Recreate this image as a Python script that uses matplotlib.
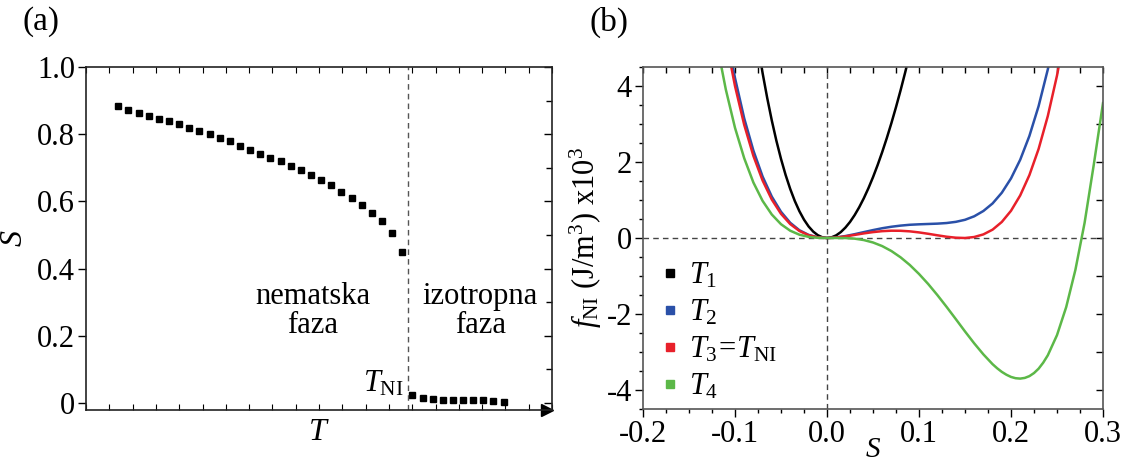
import numpy as np
import matplotlib
matplotlib.use('Agg')
import matplotlib.pyplot as plt
from matplotlib.lines import Line2D
from matplotlib.ticker import MultipleLocator

plt.rcParams['font.family'] = ['Liberation Serif', 'DejaVu Serif']
plt.rcParams['mathtext.fontset'] = 'custom'
plt.rcParams['mathtext.rm'] = 'Liberation Serif'
plt.rcParams['mathtext.it'] = 'Liberation Serif:italic'
plt.rcParams['axes.unicode_minus'] = False

# (a) order parameter vs temperature
T_nem = list(range(1, 30))
S_nem = [0.883, 0.873, 0.863, 0.855, 0.846, 0.838, 0.829, 0.818, 0.810, 0.802,
         0.789, 0.779, 0.766, 0.754, 0.742, 0.730, 0.720, 0.706, 0.692, 0.679,
         0.663, 0.648, 0.628, 0.611, 0.588, 0.565, 0.541, 0.506, 0.449]
T_iso = list(range(30, 40))
S_iso = [0.023, 0.015, 0.011, 0.008, 0.008, 0.008, 0.008, 0.008, 0.007, 0.002]
T_NI = 29.6

# (b) free energy density curves, f_NI x10^3 J/m^3
S_grid = [-0.12, -0.11, -0.10, -0.09, -0.08, -0.07, -0.06, -0.05, -0.04, -0.03,
          -0.02, -0.01, 0.00, 0.01, 0.02, 0.03, 0.04, 0.05, 0.06, 0.07,
          0.08, 0.09, 0.10, 0.11, 0.12, 0.13, 0.14, 0.15, 0.16, 0.17,
          0.18, 0.19, 0.20, 0.21, 0.22, 0.23, 0.24, 0.25, 0.26, 0.27,
          0.28, 0.29, 0.30]
S_T1 = [-0.080, -0.075, -0.070, -0.065, -0.060, -0.055, -0.050, -0.045, -0.040,
        -0.035, -0.030, -0.025, -0.020, -0.015, -0.010, -0.005, 0.000, 0.005,
        0.010, 0.015, 0.020, 0.025, 0.030, 0.035, 0.040, 0.045, 0.050, 0.055,
        0.060, 0.065, 0.070, 0.075, 0.080, 0.085, 0.090]
f_T1 = [5.86, 5.07, 4.34, 3.687, 3.092, 2.558, 2.082, 1.660, 1.292, 0.974,
        0.705, 0.483, 0.304, 0.169, 0.074, 0.018, 0.0, 0.018, 0.070, 0.156,
        0.274, 0.422, 0.601, 0.809, 1.045, 1.309, 1.600, 1.918, 2.261, 2.630,
        3.024, 3.444, 3.889, 4.360, 4.857]
f_T2 = [7.03, 5.50, 4.21, 3.15, 2.30, 1.617, 1.089, 0.690, 0.401, 0.204,
        0.082, 0.018, 0.0, 0.014, 0.051, 0.100, 0.155, 0.208, 0.257, 0.296,
        0.326, 0.348, 0.360, 0.369, 0.378, 0.394, 0.425, 0.479, 0.571, 0.711,
        0.910, 1.191, 1.568, 2.059, 2.686, 3.470, 4.435, 5.606, 7.0, 8.6,
        10.4, 12.5, 14.8]
f_T3 = [6.72, 5.24, 4.00, 2.98, 2.16, 1.513, 1.012, 0.637, 0.367, 0.185,
        0.073, 0.016, 0.0, 0.012, 0.042, 0.081, 0.121, 0.155, 0.180, 0.192,
        0.190, 0.175, 0.147, 0.111, 0.071, 0.034, 0.008, 0.000, 0.026, 0.095,
        0.220, 0.422, 0.716, 1.120, 1.655, 2.343, 3.208, 4.275, 5.570, 7.1,
        8.9, 10.9, 13.2]
S_T4 = [-0.12, -0.11, -0.10, -0.09, -0.08, -0.07, -0.06, -0.05, -0.04, -0.03,
        -0.02, -0.01, 0.00, 0.01, 0.02, 0.03, 0.04, 0.05, 0.06, 0.07,
        0.08, 0.09, 0.10, 0.11, 0.12, 0.13, 0.14, 0.15, 0.16, 0.17,
        0.18, 0.185, 0.19, 0.195, 0.20, 0.205, 0.21, 0.215, 0.22, 0.225,
        0.23, 0.235, 0.24, 0.25, 0.26, 0.27, 0.28, 0.29, 0.30]
f_T4 = [5.15, 3.91, 2.90, 2.10, 1.46, 0.977, 0.618, 0.363, 0.192, 0.087,
        0.030, 0.005, 0.0, 0.001, -0.001, -0.017, -0.054, -0.118, -0.213, -0.343,
        -0.509, -0.710, -0.946, -1.211, -1.503, -1.813, -2.134, -2.459, -2.772, -3.063,
        -3.321, -3.429, -3.523, -3.598, -3.656, -3.690, -3.700, -3.682, -3.635, -3.554,
        -3.439, -3.281, -3.087, -2.556, -1.818, -0.838, 0.400, 1.934, 3.55]

curve_labels = [r'$T_1$', r'$T_2$', r'$T_3\!=\!T_{\mathrm{NI}}$', r'$T_4$']
curve_colors = ['#000000', '#2a50a8', '#e8202a', '#5cb848']

fig = plt.figure(figsize=(11.35, 4.68), dpi=100)
ax1 = fig.add_axes([86/1135, 1 - 410/468, 466/1135, 343/468])
ax2 = fig.add_axes([643/1135, 1 - 409/468, 460/1135, 342/468])

# ---- panel (a)
ax1.plot(T_nem, S_nem, 's', color='black', markersize=5)
ax1.plot(T_iso, S_iso, 's', color='black', markersize=5)
ax1.axvline(T_NI, color='#555555', ls=(0, (4, 3)), lw=1)
ax1.set_xlim(-2.19, 43.77)
ax1.set_ylim(-0.021, 1.0)
ax1.set_yticks([0, 0.2, 0.4, 0.6, 0.8, 1.0])
ax1.set_yticklabels(['0', '0.2', '0.4', '0.6', '0.8', '1.0'])
ax1.yaxis.set_minor_locator(MultipleLocator(0.1))
ax1.set_xticks(np.linspace(-2.19, 43.77, 21))
ax1.set_xticklabels([])
ax1.tick_params(axis='y', which='major', direction='out', length=6, width=1,
                labelsize=22, pad=2, right=False)
ax1.tick_params(axis='y', which='minor', left=False, right=False)
ax1.tick_params(axis='x', which='major', direction='in', length=4, width=0.8,
                top=True, bottom=True)
# right spine ticks pointing inwards
secy = ax1.secondary_yaxis('right')
secy.set_yticks([0, 0.2, 0.4, 0.6, 0.8, 1.0])
secy.yaxis.set_minor_locator(MultipleLocator(0.1))
secy.tick_params(which='major', direction='in', length=6, width=1, labelright=False)
secy.tick_params(which='minor', direction='in', length=4, width=1)
secy.spines['right'].set_visible(False)
for s in ax1.spines.values():
    s.set_linewidth(1.2)
    s.set_color('#222222')
ax1.plot(0.989, 0, '>', color='black', markersize=8, transform=ax1.transAxes,
         clip_on=False)
ax1.set_xlabel(r'$T$', fontsize=23, labelpad=2)
ax1.set_ylabel(r'$S$', fontsize=23, labelpad=6)
ax1.text(20.2, 0.275, 'nematska\nfaza', fontsize=22, ha='center', va='center',
         linespacing=1.0)
ax1.text(36.7, 0.275, 'izotropna\nfaza', fontsize=22, ha='center', va='center',
         linespacing=1.0)
ax1.text(29.2, 0.035, r'$T_{\mathrm{NI}}$', fontsize=22, ha='right', va='baseline')

# ---- panel (b)
ax2.axhline(0, color='#444444', ls=(0, (4, 3)), lw=1)
ax2.axvline(0, color='#444444', ls=(0, (4, 3)), lw=1)
ax2.plot(S_T1, f_T1, color=curve_colors[0], lw=1.8)
ax2.plot(S_grid, f_T2, color=curve_colors[1], lw=1.8)
ax2.plot(S_grid, f_T3, color=curve_colors[2], lw=1.8)
ax2.plot(S_T4, f_T4, color=curve_colors[3], lw=1.8)
ax2.set_xlim(-0.2, 0.3)
ax2.set_ylim(-4.5, 4.5)
ax2.set_xticks([-0.2, -0.1, 0.0, 0.1, 0.2, 0.3])
ax2.set_xticklabels(['-0.2', '-0.1', '0.0', '0.1', '0.2', '0.3'])
ax2.set_yticks([-4, -2, 0, 2, 4])
ax2.set_yticklabels(['-4', '-2', '0', '2', '4'])
ax2.xaxis.set_minor_locator(MultipleLocator(0.025))
ax2.yaxis.set_minor_locator(MultipleLocator(0.5))
ax2.tick_params(which='major', direction='out', length=6, width=1, labelsize=22,
                pad=2)
ax2.tick_params(which='minor', direction='out', length=3, width=1)
secx = ax2.secondary_xaxis('top')
secx.xaxis.set_minor_locator(MultipleLocator(0.025))
secx.set_xticks([-0.2, -0.1, 0.0, 0.1, 0.2, 0.3])
secx.tick_params(which='both', direction='in', length=4, width=1, labeltop=False)
secx.spines['top'].set_visible(False)
secy2 = ax2.secondary_yaxis('right')
secy2.set_yticks([-4, -2, 0, 2, 4])
secy2.yaxis.set_minor_locator(MultipleLocator(1))
secy2.tick_params(which='both', direction='in', length=5, width=1, labelright=False)
secy2.spines['right'].set_visible(False)
for s in ax2.spines.values():
    s.set_linewidth(1.2)
    s.set_color('#555555')
ax2.set_xlabel(r'$S$', fontsize=21, labelpad=-9)
ax2.set_ylabel(r'$f_{\mathrm{NI}}$ (J/m$^3$) x10$^3$', fontsize=22, labelpad=2)

handles = [Line2D([], [], marker='s', ls='none', color=c, markersize=6)
           for c in curve_colors]
ax2.legend(handles, curve_labels, loc='upper left', bbox_to_anchor=(0.0, 0.485),
           frameon=False, fontsize=22, handlelength=0.6, handletextpad=0.3,
           labelspacing=0.24, borderaxespad=0.2)

fig.text(0.020, 0.953, '(a)', fontsize=24, va='center', ha='left')
fig.text(0.519, 0.953, '(b)', fontsize=24, va='center', ha='left')

fig.savefig('out.png', dpi=100)
